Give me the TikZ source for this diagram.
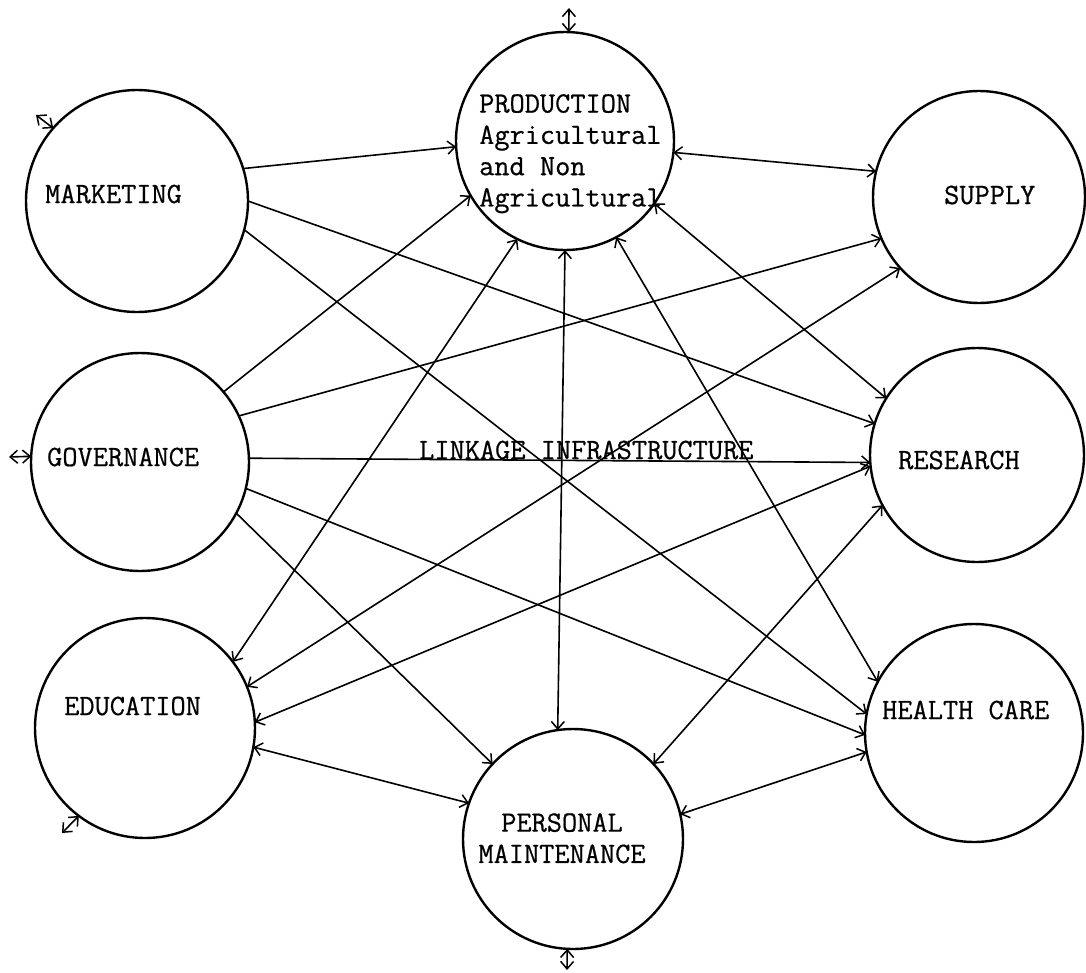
\documentclass[tikz,border=0pt]{standalone}
\usepackage{fontspec}
\usetikzlibrary{arrows.meta}

\newfontfamily\typerface{Latin Modern Mono}[FakeBold=0.6]
\newcommand{\sectorfont}{\fontsize{29.5}{31.3}\selectfont\typerface}

\tikzset{
  hub/.style={circle, draw, line width=2.4pt, minimum size=#1, inner sep=0pt, outer sep=0pt},
  lbl/.style={font=\sectorfont, inner sep=0pt},
  link/.style={line width=1.6pt},
  >={Straight Barb[length=7.5pt,width=13pt,line width=1.5pt]}
}

\begin{document}
\begin{tikzpicture}[x=1pt,y=-1pt]
\useasboundingbox (0,0) rectangle (1086,972);

% sector circles
\node[hub=222pt] (mkt)  at (137,201) {};
\node[hub=218pt] (gov)  at (140,462) {};
\node[hub=220pt] (edu)  at (145,728) {};
\node[hub=218pt] (prod) at (565,141) {};
\node[hub=212pt] (sup)  at (979,197) {};
\node[hub=214pt] (res)  at (977,455) {};
\node[hub=218pt] (hc)   at (974,733) {};
\node[hub=220pt] (pm)   at (573,839) {};

% sector names
\node[lbl, anchor=west] (tmkt) at (45,194) {MARKETING};
\node[lbl, anchor=west] (tgov) at (47,457) {GOVERNANCE};
\node[lbl, anchor=west] (tedu) at (64,706) {EDUCATION};
\node[lbl, anchor=west] (tsup) at (944,195) {SUPPLY};
\node[lbl, anchor=west] (tres) at (898,460) {RESEARCH};
\node[lbl, anchor=west] (thc)  at (882,710) {HEALTH CARE};
\node[lbl, anchor=north west, align=left] (tprod) at (479,94)
  {PRODUCTION\\Agricultural\\and Non\\Agricultural};
\node[lbl, anchor=north, align=center] (tpm) at (562,813)
  {PERSONAL\\MAINTENANCE};
\node[lbl, anchor=west] (tlink) at (419,450) {LINKAGE INFRASTRUCTURE};

% one-way links from marketing and governance
\draw[link,->] (mkt.17)  -- (prod.183);
\draw[link,->] (mkt.0)   -- (res.163);
\draw[link,->] (mkt.-15) -- (hc.170);
\draw[link,->] (gov.40)  -- (prod.210);
\draw[link,->] (gov.25)  -- (sup.203);
\draw[link,->] (gov.2)   -- (res.184);
\draw[link,->] (gov.-14) -- (hc.181);
\draw[link,->] (gov.-28) -- (pm.137);

% two-way links
\draw[link,<->] (prod.244) -- (edu.37);
\draw[link,<->] (sup.222)  -- (edu.22);
\draw[link,<->] (res.186)  -- (edu.3);
\draw[link,<->] (edu.-10)  -- (pm.161);
\draw[link,<->] (prod.-6)  -- (sup.166);
\draw[link,<->] (prod.-35) -- (res.148);
\draw[link,<->] (prod.-62) -- (hc.152);
\draw[link,<->] (prod.270) -- (pm.98);
\draw[link,<->] (res.208)  -- (pm.43);
\draw[link,<->] (hc.190)   -- (pm.13);

% outward links to the surroundings
\coordinate (mktout)  at (36,115);
\coordinate (prodout) at (569,8);
\coordinate (govout)  at (9,457);
\coordinate (eduout)  at (62,833);
\coordinate (pmout)   at (567,970);
\draw[link,<->] (mkt.139)  -- (mktout);
\draw[link,<->] (prod.88)  -- (prodout);
\draw[link,<->] (gov.177)  -- (govout);
\draw[link,<->] (edu.233)  -- (eduout);
\draw[link,<->] (pm.267)   -- (pmout);
\end{tikzpicture}
\end{document}
